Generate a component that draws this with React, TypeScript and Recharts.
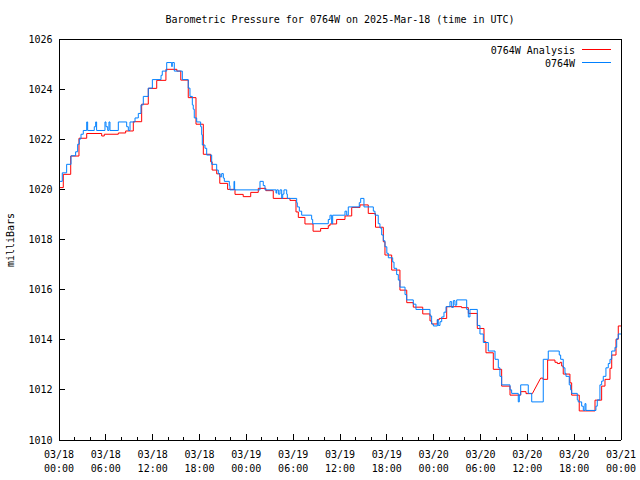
import React from 'react';
import { LineChart, Line, XAxis, YAxis } from 'recharts';

const FONT = '"DejaVu Sans Mono", "Liberation Mono", monospace';
const TITLE = 'Barometric Pressure for 0764W on 2025-Mar-18 (time in UTC)';
const Y_LABEL = 'milliBars';
const SERIES_NAMES = ['0764W Analysis', '0764W'];
const SERIES_COLORS = ['#ff0000', '#0080ff'];

// Station observations: hours since 03/18 00:00 UTC at which the reading changes, and the reading (mb)
const stationHours = [
  0.0, 0.42, 0.98, 1.54, 2.13, 2.39, 2.6, 2.82, 3.11, 3.55, 3.67, 4.52, 4.7, 4.82, 5.89, 6.02, 6.24, 6.4, 6.53,
  7.6, 8.67, 8.88, 9.1, 9.74, 10.16, 10.5, 10.8, 11.44, 11.96, 13.07, 13.23, 13.8, 14.44, 14.51, 14.77, 15.8,
  16.56, 16.78, 17.08, 17.2, 17.33, 17.64, 18.15, 18.28, 18.36, 18.7, 18.92, 19.56, 20.2, 20.41, 20.63, 20.84,
  21.05, 21.18, 21.82, 21.9, 22.42, 22.5, 25.75, 26.17, 26.39, 27.8, 27.89, 28.1, 28.31, 28.53, 28.66, 28.82,
  29.17, 29.25, 30.45, 30.53, 30.79, 31.09, 32.37, 32.5, 34.5, 34.72, 34.93, 35.06, 36.64, 36.86, 37.06, 38.47,
  38.65, 39.07, 40.27, 40.48, 40.9, 41.12, 41.34, 41.55, 41.76, 42.0, 42.19, 42.75, 42.92, 43.26, 43.47, 43.68,
  44.33, 44.54, 45.39, 45.73, 47.53, 47.74, 47.96, 48.47, 48.59, 48.81, 49.03, 49.32, 49.58, 50.09, 50.31,
  50.52, 50.73, 50.95, 52.23, 52.44, 52.65, 53.59, 53.93, 54.36, 55.0, 55.86, 56.28, 56.49, 56.71, 57.78,
  57.99, 58.84, 58.97, 59.15, 60.12, 60.56, 62.04, 62.68, 64.09, 64.27, 64.6, 64.82, 64.95, 65.37, 65.55,
  65.68, 66.4, 66.52, 66.96, 67.17, 67.38, 67.51, 68.79, 68.96, 69.3, 69.52, 69.73, 70.07, 70.37, 70.59,
  70.81, 71.23, 71.45, 71.65, 72.0,
];
const stationPressure = [
  1020.32, 1020.66, 1021.0, 1021.34, 1021.5, 1021.8, 1022.01, 1022.2, 1022.35, 1022.69, 1022.35, 1022.5, 1022.69,
  1022.35, 1022.69, 1022.5, 1022.35, 1022.69, 1022.35, 1022.69, 1022.5, 1022.35, 1022.69, 1022.85, 1023.03,
  1023.37, 1023.71, 1024.04, 1024.38, 1024.55, 1024.72, 1025.06, 1024.9, 1025.06, 1024.72, 1024.38, 1024.04,
  1023.71, 1023.37, 1023.2, 1022.85, 1022.69, 1022.5, 1022.18, 1021.77, 1021.64, 1021.37, 1021.0, 1020.77,
  1020.63, 1020.5, 1020.63, 1020.45, 1020.32, 1020.15, 1019.98, 1020.32, 1019.98, 1020.32, 1020.15, 1019.98,
  1019.85, 1019.98, 1019.81, 1019.98, 1019.64, 1019.81, 1019.98, 1019.81, 1019.64, 1019.47, 1019.3, 1019.13,
  1018.97, 1018.8, 1018.63, 1018.8, 1018.97, 1018.63, 1018.97, 1019.13, 1018.97, 1019.3, 1019.47, 1019.64,
  1019.3, 1019.13, 1018.97, 1018.63, 1018.46, 1018.18, 1017.95, 1017.71, 1017.45, 1017.27, 1017.1, 1016.85,
  1016.6, 1016.38, 1016.1, 1015.8, 1015.59, 1015.42, 1015.21, 1014.95, 1014.63, 1014.55, 1014.8, 1014.57,
  1014.72, 1014.91, 1015.1, 1015.32, 1015.52, 1015.29, 1015.56, 1015.38, 1015.59, 1015.21, 1014.91, 1015.21,
  1014.57, 1014.23, 1013.89, 1013.55, 1013.22, 1012.88, 1012.54, 1012.2, 1012.0, 1011.86, 1011.52, 1011.8,
  1012.2, 1011.86, 1011.52, 1013.22, 1013.55, 1013.39, 1013.22, 1012.88, 1012.66, 1012.54, 1012.2, 1012.0,
  1011.86, 1011.6, 1011.52, 1011.35, 1011.18, 1011.45, 1011.18, 1011.35, 1011.6, 1012.2, 1012.35, 1012.54,
  1012.88, 1013.05, 1013.22, 1013.55, 1013.7, 1014.04, 1014.23, 1014.23,
];

// Analysis: hours at which the value changes, and the value (mb)
const analysisHours = [
  0.0, 0.55, 1.5, 2.56, 3.55, 5.47, 5.8, 7.6, 8.54, 9.52, 10.59, 11.44, 12.52, 13.7, 15.1, 15.6, 16.56, 17.55,
  18.49, 19.43, 19.62, 20.2, 20.6, 21.6, 22.55, 23.6, 24.56, 25.53, 26.5, 27.45, 29.59, 30.36, 30.66, 31.51,
  32.55, 33.52, 34.5, 34.72, 35.57, 36.64, 37.5, 38.56, 39.62, 40.55, 41.55, 41.76, 42.62, 43.68, 44.55, 45.39,
  46.6, 47.53, 47.74, 48.47, 48.72, 49.67, 51.58, 52.44, 53.59, 54.45, 54.7, 55.64, 56.71, 57.78, 59.15, 59.83,
  60.64, 61.71, 62.0, 62.6, 63.54, 63.84, 64.18, 64.4, 64.6, 65.46, 65.68, 66.65, 68.67, 69.52, 69.95, 70.59,
  70.81, 71.36, 71.65, 72.0,
];
const analysisPressure = [
  1020.07, 1020.6, 1021.33, 1022.04, 1022.23, 1022.13, 1022.2, 1022.25, 1022.33, 1022.7, 1023.4, 1024.03,
  1024.35, 1024.79, 1024.72, 1024.36, 1023.66, 1022.6, 1021.4, 1021.1, 1020.77, 1020.62, 1020.24, 1020.0,
  1019.8, 1019.71, 1019.88, 1020.04, 1019.95, 1019.64, 1019.56, 1019.1, 1018.88, 1018.62, 1018.33, 1018.44,
  1018.55, 1018.62, 1018.8, 1018.94, 1019.28, 1019.38, 1019.04, 1018.49, 1017.91, 1017.38, 1016.78, 1015.98,
  1015.48, 1015.3, 1015.03, 1014.75, 1014.63, 1014.8, 1014.85, 1015.32, 1015.28, 1015.05, 1014.45, 1013.92,
  1013.48, 1012.82, 1012.15, 1011.79, 1011.93, 1011.85, 1011.85, 1012.47, 1012.42, 1013.19, 1013.1, 1013.05,
  1013.1, 1012.95, 1012.63, 1012.28, 1011.79, 1011.16, 1011.59, 1012.15, 1012.42, 1012.86, 1013.39, 1014.02,
  1014.55, 1014.55,
];
// index in the analysis arrays reached by a straight segment (data gap) instead of a step
const analysisRampIndex = [67];

const minorTickHours = [
  0, 2, 4, 6, 8, 10, 12, 14, 16, 18, 20, 22, 24, 26, 28, 30, 32, 34, 36, 38, 40, 42, 44, 46, 48, 50, 52, 54, 56,
  58, 60, 62, 64, 66, 68, 70, 72,
];
const majorTickHours = [0, 6, 12, 18, 24, 30, 36, 42, 48, 54, 60, 66, 72];
const tickDates = ['03/18', '03/18', '03/18', '03/18', '03/19', '03/19', '03/19', '03/19', '03/20', '03/20', '03/20', '03/20', '03/21'];
const tickTimes = ['00:00', '06:00', '12:00', '18:00', '00:00', '06:00', '12:00', '18:00', '00:00', '06:00', '12:00', '18:00', '00:00'];
const pressureTicks = [1010, 1012, 1014, 1016, 1018, 1020, 1022, 1024, 1026];

function stepPoints(hours: number[], values: number[], ramps: number[] = []) {
  const pts: { h: number; v: number }[] = [];
  for (let i = 0; i < hours.length; i++) {
    if (i > 0 && !ramps.includes(i)) pts.push({ h: hours[i], v: values[i - 1] });
    pts.push({ h: hours[i], v: values[i] });
  }
  return pts;
}

const stationData = stepPoints(stationHours, stationPressure);
const analysisData = stepPoints(analysisHours, analysisPressure, analysisRampIndex);

const textProps = { fontFamily: FONT, fontSize: 10, fill: '#000' };

const BottomTick = (props: any) => {
  const { x, y, payload } = props;
  const idx = majorTickHours.indexOf(payload.value);
  const major = idx >= 0;
  return (
    <g>
      <line x1={x} y1={y} x2={x} y2={y - (major ? 6 : 3)} stroke="#000" shapeRendering="crispEdges" />
      {major && (
        <text x={x} y={y + 17.5} textAnchor="middle" {...textProps}>
          {tickDates[idx]}
        </text>
      )}
      {major && (
        <text x={x} y={y + 31.5} textAnchor="middle" {...textProps}>
          {tickTimes[idx]}
        </text>
      )}
    </g>
  );
};

const TopTick = (props: any) => {
  const { x, y, payload } = props;
  const major = majorTickHours.includes(payload.value);
  return <line x1={x} y1={y} x2={x} y2={y + (major ? 6 : 3)} stroke="#000" shapeRendering="crispEdges" />;
};

const LeftTick = (props: any) => {
  const { x, y, payload } = props;
  return (
    <g>
      <line x1={x} y1={y} x2={x + 6} y2={y} stroke="#000" shapeRendering="crispEdges" />
      <text x={x - 6.5} y={y + 3.5} textAnchor="end" {...textProps}>
        {payload.value}
      </text>
    </g>
  );
};

const RightTick = (props: any) => {
  const { x, y } = props;
  return <line x1={x} y1={y} x2={x - 6} y2={y} stroke="#000" shapeRendering="crispEdges" />;
};

const axisLine = { stroke: '#000', shapeRendering: 'crispEdges' } as any;

export default function App() {
  return (
    <div style={{ position: 'absolute', left: 0, top: 0, width: 640, height: 480, background: '#fff' }}>
      <LineChart width={640} height={480} margin={{ top: 38, right: 18, bottom: 0, left: 0 }}>
        <XAxis
          dataKey="h"
          type="number"
          domain={[0, 72]}
          ticks={minorTickHours}
          interval={0}
          height={40}
          tickSize={0}
          tickMargin={0}
          tickLine={false}
          axisLine={axisLine}
          tick={<BottomTick />}
        />
        <XAxis
          xAxisId="top"
          orientation="top"
          dataKey="h"
          type="number"
          domain={[0, 72]}
          ticks={minorTickHours}
          interval={0}
          height={1}
          tickSize={0}
          tickMargin={0}
          tickLine={false}
          axisLine={axisLine}
          tick={<TopTick />}
        />
        <YAxis
          type="number"
          domain={[1010, 1026]}
          ticks={pressureTicks}
          interval={0}
          width={59}
          tickSize={0}
          tickMargin={0}
          tickLine={false}
          axisLine={axisLine}
          tick={<LeftTick />}
        />
        <YAxis
          yAxisId="right"
          orientation="right"
          type="number"
          domain={[1010, 1026]}
          ticks={pressureTicks}
          interval={0}
          width={1}
          tickSize={0}
          tickMargin={0}
          tickLine={false}
          axisLine={axisLine}
          tick={<RightTick />}
        />
        <Line
          data={analysisData}
          dataKey="v"
          name={SERIES_NAMES[0]}
          type="linear"
          stroke={SERIES_COLORS[0]}
          strokeWidth={1}
          dot={false}
          activeDot={false}
          isAnimationActive={false}
        />
        <Line
          data={stationData}
          dataKey="v"
          name={SERIES_NAMES[1]}
          type="linear"
          stroke={SERIES_COLORS[1]}
          strokeWidth={1}
          dot={false}
          activeDot={false}
          isAnimationActive={false}
        />
      </LineChart>
      <svg
        width={640}
        height={480}
        style={{ position: 'absolute', left: 0, top: 0, pointerEvents: 'none' }}
      >
        <text x={340} y={22.5} textAnchor="middle" {...textProps}>
          {TITLE}
        </text>
        <text x={13.5} y={240} textAnchor="middle" transform="rotate(-90 13.5 240)" {...textProps}>
          {Y_LABEL}
        </text>
        {SERIES_NAMES.map((name, i) => (
          <g key={name}>
            <text x={575} y={53.5 + i * 13} textAnchor="end" {...textProps}>
              {name}
            </text>
            <line
              x1={582}
              x2={611}
              y1={49.5 + i * 13}
              y2={49.5 + i * 13}
              stroke={SERIES_COLORS[i]}
              strokeWidth={1}
              shapeRendering="crispEdges"
            />
          </g>
        ))}
      </svg>
    </div>
  );
}
